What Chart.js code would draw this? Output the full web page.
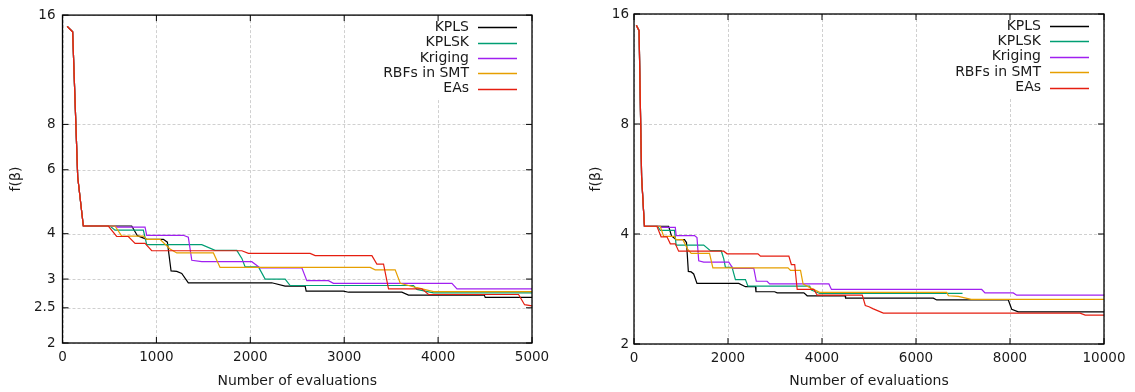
<!DOCTYPE html>
<html>
<head>
<meta charset="utf-8">
<script src="https://cdn.jsdelivr.net/npm/chart.js@4.4.0/dist/chart.umd.min.js"></script>
<style>
  html, body { margin: 0; padding: 0; background: #fff; }
  #wrap { position: relative; width: 1135px; height: 392px; }
  canvas { position: absolute; top: 0; }
</style>
</head>
<body>
<div id="wrap">
  <canvas id="leftChart" width="567" height="392" style="left:0"></canvas>
  <canvas id="rightChart" width="568" height="392" style="left:567px"></canvas>
</div>
<script>
// series names + colours (gnuplot-ish palette)
const seriesNames = ["KPLS", "KPLSK", "Kriging", "RBFs in SMT", "EAs"];
const seriesColors = ["#000000", "#009e73", "#a020f0", "#e69f00", "#e51e10"];

// [evaluations, f(beta)]
const kpls = [[50,14.9],[108,14.4],[162,5.73],[222,4.2],[737,4.2],[798,3.95],[897,3.86],[1074,3.86],[1117,3.79],[1156,3.16],[1217,3.15],[1270,3.11],[1340,2.93],[2229,2.93],[2371,2.87],[2584,2.87],[2595,2.78],[2992,2.78],[3046,2.76],[3614,2.76],[3685,2.71],[4492,2.71],[4502,2.67],[6369,2.67],[6440,2.64],[7964,2.64],[8036,2.49],[8177,2.45],[10000,2.45]];
const kplsk = [[50,14.9],[108,14.4],[162,5.73],[222,4.2],[506,4.2],[559,4.09],[861,4.09],[897,3.73],[1483,3.73],[1625,3.60],[1856,3.60],[1910,3.42],[1945,3.24],[2087,3.24],[2158,3.0],[2371,3.0],[2424,2.88],[3738,2.88],[3774,2.81],[3951,2.75],[6990,2.75]];
const kriging = [[50,14.9],[108,14.4],[162,5.73],[222,4.2],[559,4.2],[579,4.17],[879,4.17],[897,3.96],[1287,3.96],[1340,3.91],[1377,3.38],[1483,3.35],[2016,3.35],[2105,3.22],[2549,3.22],[2602,2.97],[2832,2.97],[2886,2.92],[4147,2.92],[4201,2.82],[7398,2.82],[7468,2.76],[8070,2.76],[8142,2.72],[10000,2.72]];
const rbfs = [[50,14.9],[108,14.4],[162,5.73],[222,4.2],[559,4.2],[631,3.94],[861,3.94],[897,3.86],[1039,3.86],[1145,3.63],[1217,3.54],[1607,3.54],[1678,3.23],[3277,3.23],[3330,3.18],[3543,3.18],[3597,2.92],[3774,2.84],[3951,2.77],[6652,2.77],[6690,2.71],[6901,2.70],[7174,2.65],[10000,2.65]];
const eas = [[50,14.9],[108,14.4],[162,5.73],[222,4.2],[488,4.2],[577,3.93],[701,3.93],[773,3.76],[879,3.76],[950,3.59],[1910,3.59],[1980,3.53],[2637,3.53],[2691,3.48],[3295,3.48],[3348,3.30],[3419,3.30],[3472,2.82],[3827,2.82],[3898,2.72],[4857,2.72],[4921,2.55],[5000,2.53],[5080,2.50],[5305,2.43],[9490,2.43],[9600,2.40],[10000,2.40]];

const allSeries = [kpls, kplsk, kriging, rbfs, eas];

const leftYTicks = [2, 2.5, 3, 4, 6, 8, 16];
const rightYTicks = [2, 4, 8, 16];
const leftXTicks = [0, 1000, 2000, 3000, 4000, 5000];
const rightXTicks = [0, 2000, 4000, 6000, 8000, 10000];

const FONT = "'DejaVu Sans', sans-serif";
const TXT = "#1a1a1a";

// dashed grid, key box, frame and inward (mirrored) ticks
const framePlugin = {
  id: "frame",
  beforeDatasetsDraw(chart) {
    const { ctx, chartArea: a, scales } = chart;
    ctx.save();
    // grid
    ctx.strokeStyle = "#d0d0d0";
    ctx.lineWidth = 1;
    ctx.setLineDash([3, 2]);
    ctx.beginPath();
    scales.y.ticks.forEach(t => {
      const y = Math.round(scales.y.getPixelForValue(t.value)) + 0.5;
      ctx.moveTo(a.left, y); ctx.lineTo(a.right, y);
    });
    scales.x.ticks.forEach(t => {
      const x = Math.round(scales.x.getPixelForValue(t.value)) + 0.5;
      ctx.moveTo(x, a.top); ctx.lineTo(x, a.bottom);
    });
    ctx.stroke();
    ctx.setLineDash([]);

    // key
    ctx.font = "14px " + FONT;
    let maxW = 0;
    seriesNames.forEach(n => { maxW = Math.max(maxW, ctx.measureText(n).width); });
    const textRight = a.right - 63;
    ctx.fillStyle = "#fff";
    ctx.fillRect(textRight - maxW - 4, a.top + 1, a.right - (textRight - maxW - 4) - 1, 82);
    ctx.textAlign = "right";
    ctx.textBaseline = "middle";
    seriesNames.forEach((n, i) => {
      const y = a.top + 12 + i * 15.4;
      ctx.fillStyle = TXT;
      ctx.fillText(n, textRight, y);
      ctx.strokeStyle = seriesColors[i];
      ctx.lineWidth = 1.3;
      ctx.beginPath();
      ctx.moveTo(a.right - 54, Math.round(y) + 0.5);
      ctx.lineTo(a.right - 15, Math.round(y) + 0.5);
      ctx.stroke();
    });
    ctx.restore();
  },
  afterDraw(chart) {
    const { ctx, chartArea: a, scales } = chart;
    ctx.save();
    ctx.strokeStyle = "#000";
    ctx.lineWidth = 1.3;
    ctx.strokeRect(a.left, a.top, a.right - a.left, a.bottom - a.top);
    ctx.lineWidth = 1;
    ctx.beginPath();
    scales.y.ticks.forEach(t => {
      const y = scales.y.getPixelForValue(t.value);
      ctx.moveTo(a.left, y); ctx.lineTo(a.left + 6, y);
      ctx.moveTo(a.right, y); ctx.lineTo(a.right - 6, y);
    });
    scales.x.ticks.forEach(t => {
      const x = scales.x.getPixelForValue(t.value);
      ctx.moveTo(x, a.bottom); ctx.lineTo(x, a.bottom - 6);
      ctx.moveTo(x, a.top); ctx.lineTo(x, a.top + 6);
    });
    ctx.stroke();
    ctx.restore();
  }
};

function makeChart(id, cfg) {
  const datasets = allSeries.map((s, i) => ({
    label: seriesNames[i],
    data: s.map(p => ({ x: p[0], y: p[1] })),
    borderColor: seriesColors[i],
    borderWidth: 1.2,
    pointRadius: 0,
    tension: 0,
    fill: false,
    order: allSeries.length - i   // later series drawn on top, like gnuplot
  }));
  return new Chart(document.getElementById(id), {
    type: "line",
    data: { datasets },
    plugins: [framePlugin],
    options: {
      responsive: false,
      animation: false,
      layout: { padding: { left: 0, right: cfg.rightPad, top: 14, bottom: 0 } },
      plugins: { legend: { display: false }, tooltip: { enabled: false } },
      scales: {
        x: {
          type: "linear",
          min: 0,
          max: cfg.xMax,
          afterBuildTicks: s => { s.ticks = cfg.xTicks.map(v => ({ value: v })); },
          afterFit: s => { s.height = cfg.xHeight; },
          grid: { display: false, drawTicks: false },
          border: { display: false },
          ticks: { padding: 6, color: TXT, font: { family: FONT, size: 13.5 }, maxRotation: 0, callback: v => String(v) },
          title: { display: true, text: "Number of evaluations", color: TXT, font: { family: FONT, size: 14 }, padding: { top: 0, bottom: 2 } }
        },
        y: {
          type: "logarithmic",
          min: 2,
          max: 16,
          afterBuildTicks: s => { s.ticks = cfg.yTicks.map(v => ({ value: v })); },
          afterFit: s => { s.width = cfg.yWidth; },
          grid: { display: false, drawTicks: false },
          border: { display: false },
          ticks: { padding: cfg.yPad, color: TXT, font: { family: FONT, size: 13.5 }, callback: v => String(v) },
          title: { display: true, text: "f(β)", color: TXT, font: { family: FONT, size: 14 }, padding: { top: cfg.yTitlePad, bottom: 0 } }
        }
      }
    }
  });
}

makeChart("leftChart", { xMax: 5000, xTicks: leftXTicks, yTicks: leftYTicks, rightPad: 35, xHeight: 49, yWidth: 62.5, yPad: 7, yTitlePad: 8 });
makeChart("rightChart", { xMax: 10000, xTicks: rightXTicks, yTicks: rightYTicks, rightPad: 31, xHeight: 48, yWidth: 67, yPad: 5, yTitlePad: 21 });
</script>
</body>
</html>
